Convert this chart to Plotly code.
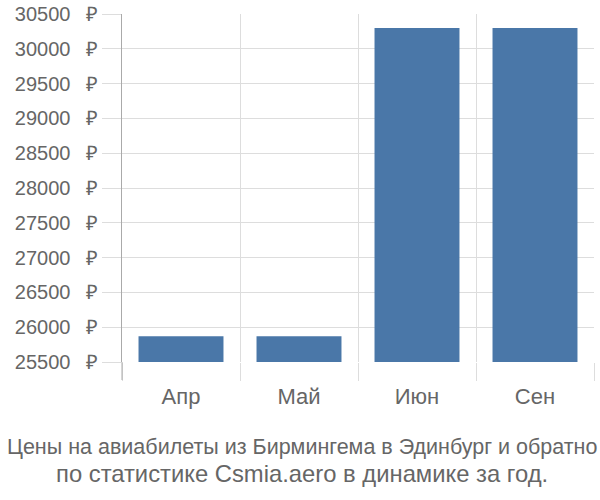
import plotly.graph_objects as go

months = ["Апр", "Май", "Июн", "Сен"]
prices = [25870, 25870, 30300, 30300]
base_price = 25500
y_ticks = [25500, 26000, 26500, 27000, 27500, 28000, 28500, 29000, 29500, 30000, 30500]
y_tick_labels = [f"{v} \u2002₽" for v in y_ticks]
title_lines = [
    "Цены на авиабилеты из Бирмингема в Эдинбург и обратно",
    "по статистике Csmia.aero в динамике за год.",
]

PLOT_L, PLOT_R, PLOT_T, PLOT_B = 122, 594, 14, 362
PH = PLOT_B - PLOT_T
PW = PLOT_R - PLOT_L

fig = go.Figure(go.Bar(
    x=months,
    y=[p - base_price for p in prices],
    base=base_price,
    marker=dict(color="#4a77a8", line=dict(width=0)),
    hoverinfo="skip",
))

fig.update_layout(
    template="none",
    width=600, height=500,
    margin=dict(l=PLOT_L, r=600 - PLOT_R, t=PLOT_T, b=500 - PLOT_B, pad=0),
    paper_bgcolor="white", plot_bgcolor="white",
    bargap=0.28,
    showlegend=False,
    font=dict(family="Liberation Sans, Arial, sans-serif", size=20, color="#666"),
    xaxis=dict(
        type="category",
        tickson="boundaries",
        automargin=False,
        showgrid=True, gridcolor="#dddddd", gridwidth=1,
        ticks="outside", ticklen=18, tickcolor="#dddddd", tickwidth=1,
        ticklabelstandoff=19,
        showline=False, zeroline=False,
        tickfont=dict(size=22, color="#666"),
    ),
    yaxis=dict(
        range=[25500, 30500],
        automargin=False,
        tickvals=y_ticks,
        ticktext=y_tick_labels,
        showgrid=True, gridcolor="#dddddd", gridwidth=1,
        ticks="outside", ticklen=19, tickcolor="#dddddd", tickwidth=1,
        showline=True, linecolor="#aaaaaa", linewidth=1,
        zeroline=False,
        tickfont=dict(size=20, color="#666"),
    ),
)

# extend the left axis line below the baseline, as in the reference
fig.add_shape(type="line", xref="paper", yref="paper",
              x0=0, x1=0, y0=0, y1=-18 / PH,
              line=dict(color="#aaaaaa", width=1))

title_y_px = [447, 473]
title_sizes = [21.5, 23.8]
for line, ypx, fs in zip(title_lines, title_y_px, title_sizes):
    fig.add_annotation(
        text=line,
        xref="paper", yref="paper",
        x=(302 - PLOT_L) / PW, y=(PLOT_B - ypx) / PH,
        xanchor="center", yanchor="middle",
        showarrow=False, align="center",
        font=dict(size=fs, color="#666"),
    )

fig.write_html("out.html",
               config={"displayModeBar": False, "staticPlot": True},
               post_script="document.body.style.margin='0px';document.body.style.padding='0px';")
